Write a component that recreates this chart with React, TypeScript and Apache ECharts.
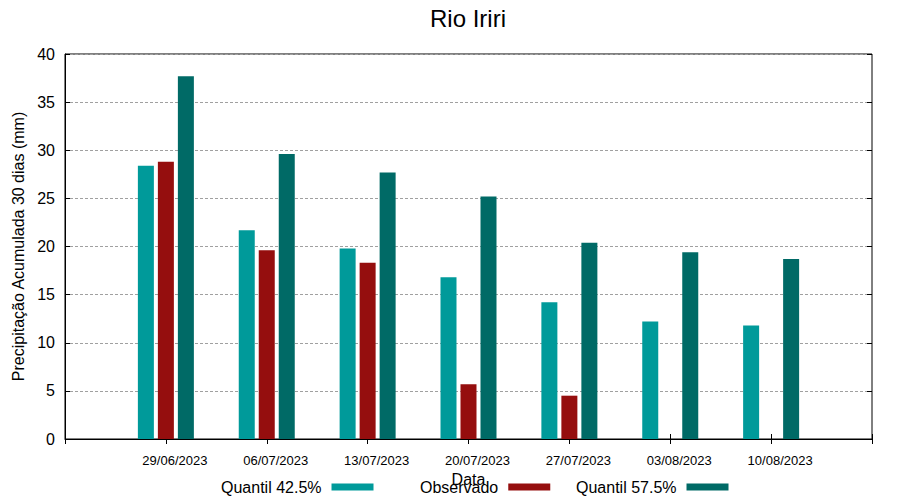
import React, { useEffect, useRef } from "react";
import * as echarts from "echarts";

const categories = ["29/06/2023", "06/07/2023", "13/07/2023", "20/07/2023", "27/07/2023", "03/08/2023", "10/08/2023"];
const quantil425 = [28.4, 21.7, 19.8, 16.8, 14.2, 12.2, 11.8];
const observado: (number | null)[] = [28.8, 19.6, 18.3, 5.7, 4.5, null, null];
const quantil575 = [37.7, 29.6, 27.7, 25.2, 20.4, 19.4, 18.7];
const seriesNames = ["Quantil 42.5%", "Observado", "Quantil 57.5%"];
const colors = ["#009a9a", "#950e0e", "#006a66"];
const yTicks = { min: 0, max: 40, interval: 5 };

const FONT = "'Liberation Sans', Arial, sans-serif";

// pad with empty slots at both ends (gnuplot-like x range)
const pad = (arr: (number | null)[]) => [null, ...arr, null];
const xCats = ["", ...categories, ""];

export default function App() {
  const ref = useRef<HTMLDivElement>(null);
  useEffect(() => {
    if (!ref.current) return;
    const chart = echarts.init(ref.current, undefined, { renderer: "svg" });
    const allData = [quantil425, observado, quantil575];
    const legendLefts = [221, 420, 576];
    chart.setOption({
      animation: false,
      textStyle: { fontFamily: FONT },
      title: {
        text: "Rio Iriri",
        left: 430,
        top: 6,
        padding: 0,
        textStyle: { fontFamily: FONT, fontSize: 24, fontWeight: "normal", color: "#000" },
      },
      legend: seriesNames.map((n, i) => ({
        data: [n],
        left: legendLefts[i],
        top: 479,
        padding: 0,
        align: "right",
        icon: "rect",
        itemWidth: 42,
        itemHeight: 7,
        selectedMode: false,
        textStyle: { fontFamily: FONT, fontSize: 16, color: "#000", padding: [0, 5, 0, 0] },
      })),
      grid: {
        left: 65,
        right: 28,
        top: 54,
        bottom: 61,
        show: true,
        borderColor: "#000",
        borderWidth: 1,
        backgroundColor: "transparent",
      },
      xAxis: [
        {
          type: "category",
          data: xCats,
          boundaryGap: false,
          name: "Data",
          nameLocation: "middle",
          nameGap: 27,
          nameTextStyle: { fontFamily: FONT, fontSize: 16, color: "#000" },
          axisLine: { show: true, lineStyle: { color: "#000", width: 1 } },
          axisTick: { show: true, inside: true, length: 5, interval: 0, lineStyle: { color: "#000" } },
          axisLabel: {
            interval: 0,
            fontFamily: FONT,
            fontSize: 13,
            color: "#000",
            margin: 15,
            padding: [0, 0, 0, 18],
          },
          splitLine: { show: false },
        },
        {
          type: "category",
          data: xCats,
          boundaryGap: false,
          position: "top",
          axisLine: { show: false },
          axisTick: { show: true, inside: true, length: 5, interval: 0, lineStyle: { color: "#000" } },
          axisLabel: { show: false },
          splitLine: { show: false },
        },
      ],
      yAxis: [
        {
          type: "value",
          min: yTicks.min,
          max: yTicks.max,
          interval: yTicks.interval,
          name: "Precipitação Acumulada 30 dias (mm)",
          nameLocation: "middle",
          nameGap: 35,
          nameTextStyle: { fontFamily: FONT, fontSize: 16, color: "#000" },
          axisLine: { show: true, lineStyle: { color: "#000", width: 1 } },
          axisTick: { show: true, inside: true, length: 5, lineStyle: { color: "#000" } },
          axisLabel: { fontFamily: FONT, fontSize: 16, color: "#000", margin: 10 },
          splitLine: { show: true, lineStyle: { color: "#a0a0a0", width: 1, type: [3, 2] } },
        },
        {
          type: "value",
          min: yTicks.min,
          max: yTicks.max,
          interval: yTicks.interval,
          position: "right",
          axisLine: { show: false },
          axisTick: { show: true, inside: true, length: 5, lineStyle: { color: "#000" } },
          axisLabel: { show: false },
          splitLine: { show: false },
        },
      ],
      series: seriesNames.map((n, i) => ({
        name: n,
        type: "bar",
        data: pad(allData[i]),
        barWidth: 16,
        barGap: "25%",
        itemStyle: { color: colors[i] },
        xAxisIndex: 0,
        yAxisIndex: 0,
        z: 1,
      })),
    });
    return () => chart.dispose();
  }, []);
  return <div ref={ref} style={{ width: 900, height: 500, position: "absolute", left: 0, top: 0 }} />;
}
